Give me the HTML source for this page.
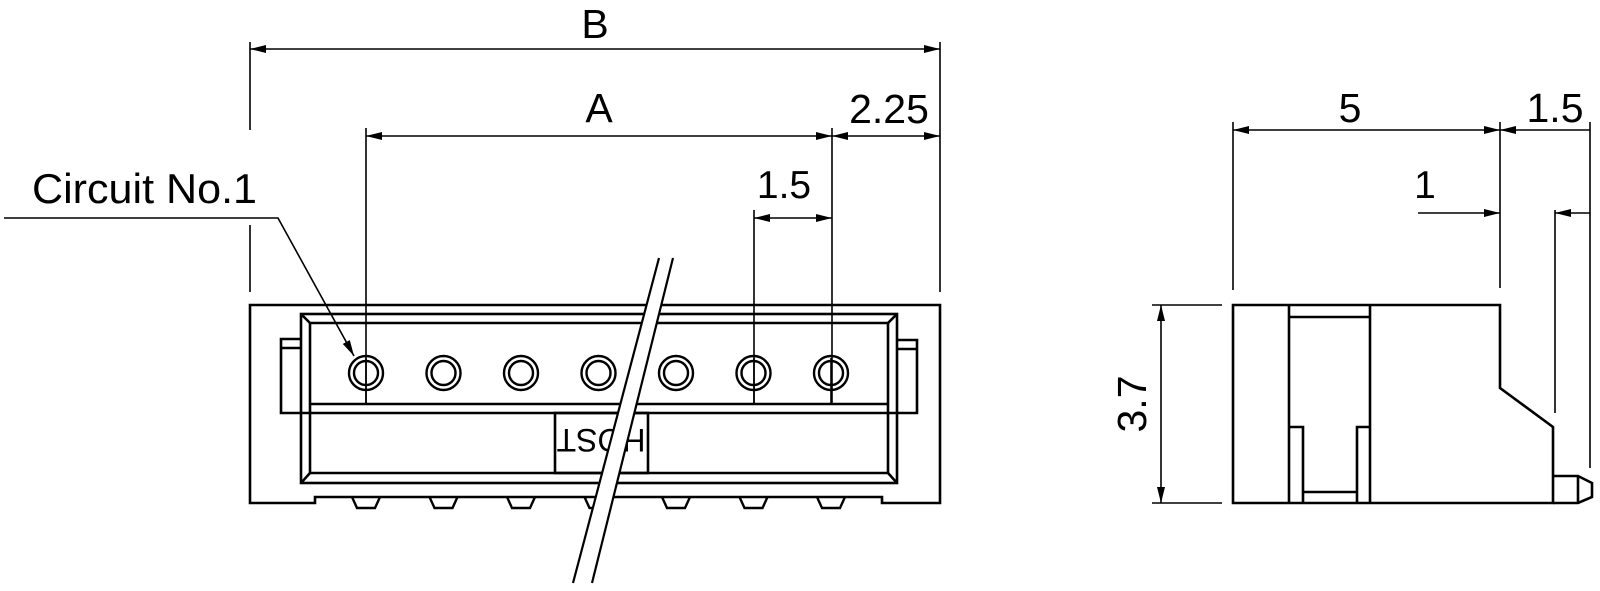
<!DOCTYPE html>
<html><head><meta charset="utf-8"><style>
html,body{margin:0;padding:0;background:#fff;}
svg{display:block;}
text{font-family:"Liberation Sans",Arial,sans-serif;fill:#000;}
</style></head><body>
<svg width="1600" height="591" viewBox="0 0 1600 591" xmlns="http://www.w3.org/2000/svg">
<defs>
<marker id="ar" viewBox="0 0 16 8" refX="16" refY="4" markerWidth="16" markerHeight="8" markerUnits="userSpaceOnUse" orient="auto-start-reverse">
<path d="M0,0 L16,4 L0,8 z" fill="#000"/></marker>
</defs>
<g stroke="#000" fill="none" stroke-width="1.6">
<line x1="250" y1="42" x2="250" y2="130"/>
<line x1="250" y1="225" x2="250" y2="292"/>
<line x1="940" y1="42" x2="940" y2="292"/>
<line x1="250" y1="49" x2="940" y2="49" marker-start="url(#ar)" marker-end="url(#ar)"/>
<line x1="366" y1="128" x2="366" y2="403"/>
<line x1="832" y1="128" x2="832" y2="403"/>
<line x1="754" y1="210" x2="754" y2="403"/>
<line x1="366" y1="136" x2="832" y2="136" marker-start="url(#ar)" marker-end="url(#ar)"/>
<line x1="832" y1="136" x2="940" y2="136" marker-start="url(#ar)" marker-end="url(#ar)"/>
<line x1="754" y1="218" x2="832" y2="218" marker-start="url(#ar)" marker-end="url(#ar)"/>
<polyline points="4,218 278,218 354,356" marker-end="url(#ar)"/>
</g>
<g stroke="#000" fill="none" stroke-width="2.6">
<path d="M250,305 L940,305 L940,503 L882,503 L882,497 L315,497 L315,503 L250,503 Z"/>
<rect x="301" y="314" width="596" height="169"/>
<line x1="310" y1="323" x2="888" y2="323"/>
<line x1="310" y1="323" x2="310" y2="473"/>
<line x1="888" y1="323" x2="888" y2="473"/>
<line x1="310" y1="404" x2="888" y2="404"/>
<line x1="301" y1="413" x2="897" y2="413"/>
<line x1="310" y1="473" x2="888" y2="473"/>
<line x1="301" y1="314" x2="310" y2="323"/>
<line x1="897" y1="314" x2="888" y2="323"/>
<line x1="301" y1="483" x2="310" y2="473"/>
<line x1="897" y1="483" x2="888" y2="473"/>
<path d="M301,339 L281,339 L281,413 L301,413"/>
<line x1="281" y1="348" x2="301" y2="348"/>
<path d="M897,340 L917,340 L917,413 L897,413"/>
<line x1="897" y1="349" x2="917" y2="349"/>
<rect x="555" y="413" width="93" height="60"/>
</g>
<text x="0" y="0" font-size="32" transform="translate(601,429) rotate(180)" text-anchor="middle">HOST</text>
<g stroke="#000" fill="none" stroke-width="2.4">
<circle cx="366" cy="373" r="17"/><circle cx="366" cy="373" r="12"/>
<circle cx="443.5" cy="373" r="17"/><circle cx="443.5" cy="373" r="12"/>
<circle cx="521" cy="373" r="17"/><circle cx="521" cy="373" r="12"/>
<circle cx="598.5" cy="373" r="17"/><circle cx="598.5" cy="373" r="12"/>
<circle cx="676" cy="373" r="17"/><circle cx="676" cy="373" r="12"/>
<circle cx="753.5" cy="373" r="17"/><circle cx="753.5" cy="373" r="12"/>
<circle cx="831" cy="373" r="17"/><circle cx="831" cy="373" r="12"/>
<path d="M352,497 L357,508 L375,508 L380,497"/>
<path d="M429.5,497 L434.5,508 L452.5,508 L457.5,497"/>
<path d="M507,497 L512,508 L530,508 L535,497"/>
<path d="M584.5,497 L589.5,508 L607.5,508 L612.5,497"/>
<path d="M662,497 L667,508 L685,508 L690,497"/>
<path d="M739.5,497 L744.5,508 L762.5,508 L767.5,497"/>
<path d="M817,497 L822,508 L840,508 L845,497"/>
</g>
<line x1="366" y1="358" x2="366" y2="403" stroke="#000" stroke-width="1.6"/>
<line x1="831" y1="358" x2="831" y2="403" stroke="#000" stroke-width="1.6"/>
<line x1="754" y1="358" x2="754" y2="403" stroke="#000" stroke-width="1.6"/>
<polygon points="659,255 673,255 592,583 573,583" fill="#fff" stroke="none"/>
<g stroke="#000" stroke-width="2.2">
<line x1="659" y1="258" x2="573" y2="583"/>
<line x1="673" y1="258" x2="592" y2="583"/>
</g>
<text x="595" y="38" font-size="41" text-anchor="middle">B</text>
<text x="599" y="122" font-size="41" text-anchor="middle">A</text>
<text x="889" y="123" font-size="41" text-anchor="middle">2.25</text>
<text x="784" y="198" font-size="39" text-anchor="middle">1.5</text>
<text x="32" y="203" font-size="42" textLength="225" lengthAdjust="spacingAndGlyphs">Circuit No.1</text>
<g stroke="#000" fill="none" stroke-width="2.6">
<path d="M1233,305 L1500,305 L1500,388 L1553,427 L1553,503 L1233,503 Z"/>
<line x1="1289" y1="305" x2="1289" y2="503"/>
<line x1="1370" y1="305" x2="1370" y2="503"/>
<line x1="1289" y1="317" x2="1370" y2="317"/>
<path d="M1289,427 L1303,427 L1303,503"/>
<path d="M1370,427 L1357,427 L1357,503"/>
<line x1="1303" y1="492" x2="1357" y2="492"/>
<path d="M1553,476 L1578,476 L1592,483 L1592,497 L1578,503 L1553,503"/>
<line x1="1578" y1="476" x2="1578" y2="503"/>
</g>
<g stroke="#000" fill="none" stroke-width="1.6">
<line x1="1152" y1="305" x2="1222" y2="305"/>
<line x1="1152" y1="503" x2="1222" y2="503"/>
<line x1="1161" y1="305" x2="1161" y2="503" marker-start="url(#ar)" marker-end="url(#ar)"/>
<line x1="1233" y1="122" x2="1233" y2="290"/>
<line x1="1500" y1="122" x2="1500" y2="288"/>
<line x1="1590" y1="122" x2="1590" y2="468"/>
<line x1="1555" y1="210" x2="1555" y2="413"/>
<line x1="1233" y1="130" x2="1500" y2="130" marker-start="url(#ar)" marker-end="url(#ar)"/>
<line x1="1500" y1="130" x2="1590" y2="130" marker-start="url(#ar)"/>
<line x1="1418" y1="213" x2="1500" y2="213" marker-end="url(#ar)"/>
<line x1="1590" y1="213" x2="1555" y2="213" marker-end="url(#ar)"/>
</g>
<text x="1350" y="122" font-size="41" text-anchor="middle">5</text>
<text x="1555" y="122" font-size="41" text-anchor="middle">1.5</text>
<text x="1425" y="198" font-size="39" text-anchor="middle">1</text>
<text x="0" y="0" font-size="41" text-anchor="middle" transform="translate(1146,404) rotate(-90)">3.7</text>
</svg>
</body></html>
